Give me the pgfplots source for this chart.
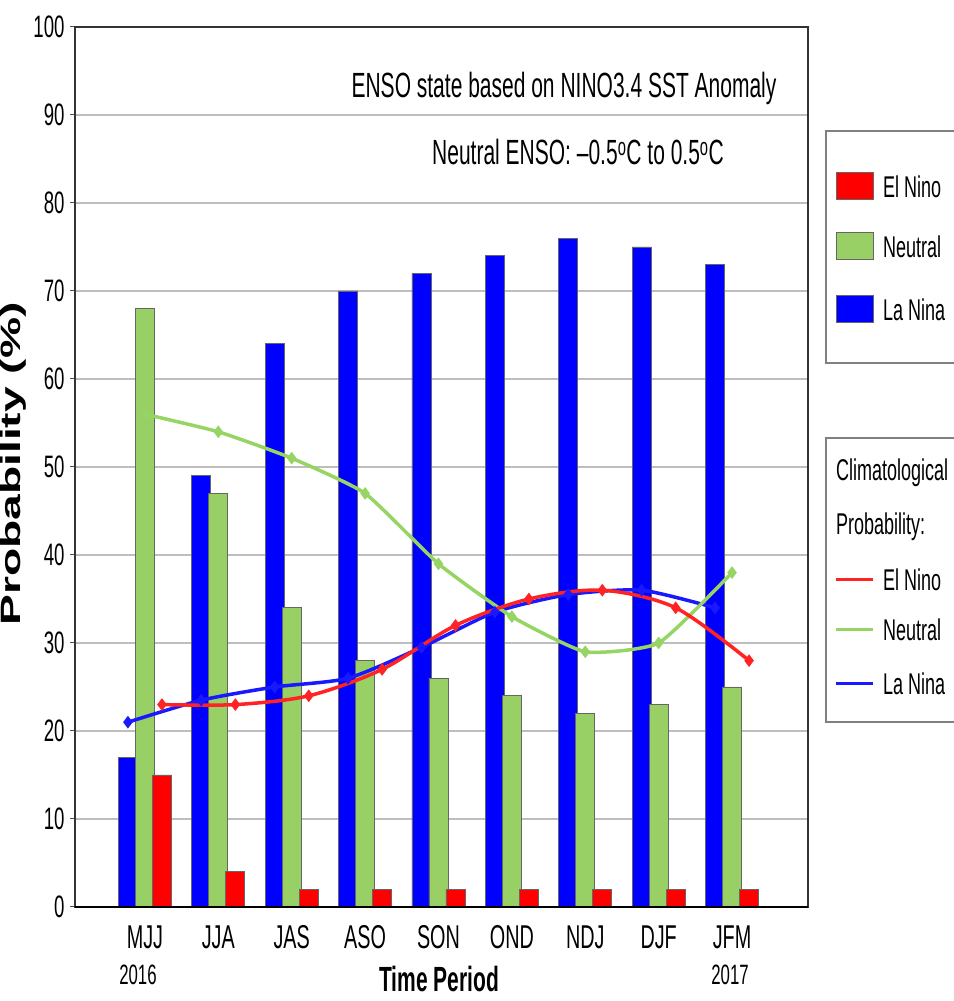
\documentclass[border=0pt]{standalone}
\usepackage{pgfplots}
\pgfplotsset{compat=1.18}
\usepackage{fontspec}
\setmainfont{Liberation Sans}
\newfontfamily\cond{Liberation Sans}[FakeStretch=0.6]
\newfontfamily\tall{Liberation Sans}[FakeStretch=1.65]
\definecolor{barred}{RGB}{255,0,0}
\definecolor{bargreen}{RGB}{153,208,102}
\definecolor{barblue}{RGB}{0,0,255}
\definecolor{linered}{RGB}{255,35,35}
\definecolor{linegreen}{RGB}{150,212,100}
\definecolor{lineblue}{RGB}{25,25,255}
\definecolor{gridgray}{RGB}{190,190,190}
\begin{document}
\begin{tikzpicture}[x=1pt,y=1pt]
\path[use as bounding box] (0,0) rectangle (953,1001);
\begin{axis}[
  at={(75pt,94pt)}, anchor=south west,
  width=733pt, height=880pt, scale only axis,
  xmin=-0.953, xmax=9.035, ymin=0, ymax=100,
  ytick={0,10,...,100},
  xtick={0,1,...,8},
  xticklabels={MJJ,JJA,JAS,ASO,SON,OND,NDJ,DJF,JFM},
  ytick pos=left,
  /pgf/number format/assume math mode=true,
  yticklabel style={font=\cond\fontsize{31}{31}\selectfont, xshift=-2pt},
  xticklabel style={font=\cond\fontsize{33}{33}\selectfont, yshift=-10pt},
  major x tick style={draw=none},
  tick align=outside, major tick length=5pt,
  major y tick style={black!70, line width=1pt},
  ymajorgrids, grid style={gridgray, line width=2pt},
  axis line style={black!80, line width=1.5pt},
  clip=false,
]
% La Nina bars
\addplot[ybar, bar width=19pt, bar shift=-17pt, fill=barblue, draw=black!60, line width=0.8pt]
  coordinates {(0,17) (1,49) (2,64) (3,70) (4,72) (5,74) (6,76) (7,75) (8,73)};
% Neutral bars
\addplot[ybar, bar width=19pt, bar shift=0pt, fill=bargreen, draw=black!60, line width=0.8pt]
  coordinates {(0,68) (1,47) (2,34) (3,28) (4,26) (5,24) (6,22) (7,23) (8,25)};
% El Nino bars
\addplot[ybar, bar width=19pt, bar shift=17pt, fill=barred, draw=black!60, line width=0.8pt]
  coordinates {(0,15) (1,4) (2,2) (3,2) (4,2) (5,2) (6,2) (7,2) (8,2)};
% Climatological lines
\addplot[smooth, tension=0.4, lineblue, line width=3.5pt, mark=diamond*, mark size=3.5pt]
  coordinates {(-0.232,21) (0.768,23.5) (1.768,25) (2.768,26) (3.768,29.5) (4.768,33.5) (5.768,35.5) (6.768,36) (7.768,34)};
\addplot[smooth, tension=0.3, linegreen, line width=3.5pt, mark=diamond*, mark size=3.5pt]
  coordinates {(0,56) (1,54) (2,51) (3,47) (4,39) (5,33) (6,29) (7,30) (8,38)};
\addplot[smooth, linered, line width=3.5pt, mark=diamond*, mark size=3.5pt]
  coordinates {(0.232,23) (1.232,23) (2.232,24) (3.232,27) (4.232,32) (5.232,35) (6.232,36) (7.232,34) (8.232,28)};
\draw[black, line width=2.5pt] (rel axis cs:0,0) -- (rel axis cs:1,0);
\end{axis}
% annotations
\node[font=\cond\fontsize{35}{35}\selectfont] at (564,913) {ENSO state based on NINO3.4 SST Anomaly};
\node[font=\cond\fontsize{35}{35}\selectfont] at (578,849) {Neutral ENSO: –0.5\textsuperscript{o}C to 0.5\textsuperscript{o}C};
\node[font=\tall\bfseries\fontsize{28}{28}\selectfont, rotate=90] at (13,537) {Probability (\%)};
\node[font=\cond\bfseries\fontsize{35}{35}\selectfont] at (439,22) {Time Period};
\node[font=\cond\fontsize{28}{28}\selectfont] at (138,26) {2016};
\node[font=\cond\fontsize{28}{28}\selectfont] at (730,26) {2017};
% legend 1
\draw[black!50, line width=1.5pt] (960,870) -- (826,870) -- (826,638) -- (960,638);
\filldraw[fill=barred, draw=black!60, line width=1pt] (836,801) rectangle (873,828);
\filldraw[fill=bargreen, draw=black!60, line width=1pt] (836,741) rectangle (873,768);
\filldraw[fill=barblue, draw=black!60, line width=1pt] (836,678) rectangle (873,705);
\node[anchor=west, font=\cond\fontsize{30}{30}\selectfont, inner sep=0pt] at (883,814) {El Nino};
\node[anchor=west, font=\cond\fontsize{30}{30}\selectfont, inner sep=0pt] at (883,754) {Neutral};
\node[anchor=west, font=\cond\fontsize{30}{30}\selectfont, inner sep=0pt] at (883,691) {La Nina};
% legend 2
\draw[black!50, line width=1.5pt] (960,563) -- (826,563) -- (826,279) -- (960,279);
\node[anchor=west, font=\cond\fontsize{30}{30}\selectfont, inner sep=0pt] at (836,528) {Climatological};
\node[anchor=west, font=\cond\fontsize{30}{30}\selectfont, inner sep=0pt] at (836,474) {Probability:};
\draw[linered, line width=3pt] (836,421) -- (873,421);
\draw[linegreen, line width=3pt] (836,371) -- (873,371);
\draw[lineblue, line width=3pt] (836,317) -- (873,317);
\node[anchor=west, font=\cond\fontsize{30}{30}\selectfont, inner sep=0pt] at (883,421) {El Nino};
\node[anchor=west, font=\cond\fontsize{30}{30}\selectfont, inner sep=0pt] at (883,371) {Neutral};
\node[anchor=west, font=\cond\fontsize{30}{30}\selectfont, inner sep=0pt] at (883,317) {La Nina};
\end{tikzpicture}
\end{document}
